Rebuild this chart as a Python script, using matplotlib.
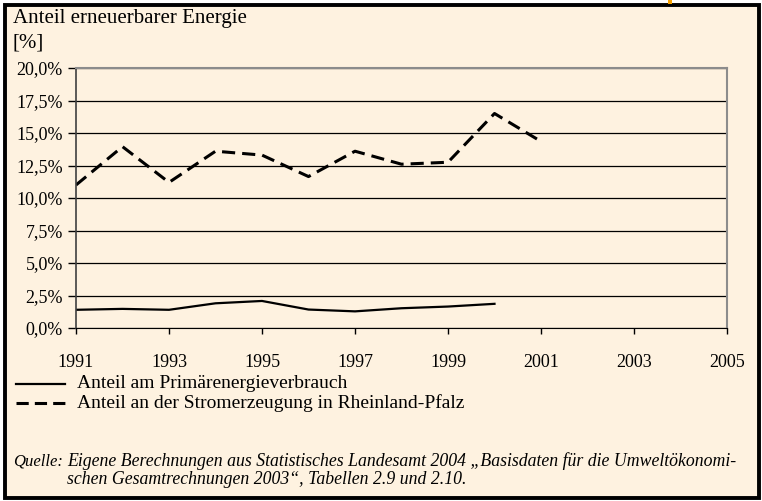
import matplotlib.pyplot as plt
from matplotlib.lines import Line2D
from matplotlib.patches import Rectangle
from matplotlib.ticker import FuncFormatter

# Daten
jahre_primaer = [1991, 1992, 1993, 1994, 1995, 1996, 1997, 1998, 1999, 2000]
primaer = [1.40, 1.47, 1.40, 1.90, 2.08, 1.42, 1.28, 1.52, 1.65, 1.86]
jahre_strom = [1991, 1992, 1993, 1994, 1995, 1996, 1997, 1998, 1999, 2000, 2001]
strom = [11.0, 13.95, 11.2, 13.6, 13.3, 11.65, 13.6, 12.6, 12.75, 16.5, 14.35]

x_ticks = [1991, 1993, 1995, 1997, 1999, 2001, 2003, 2005]
y_ticks = [0, 2.5, 5, 7.5, 10, 12.5, 15, 17.5, 20]
label_primaer = "Anteil am Primärenergieverbrauch"
label_strom = "Anteil an der Stromerzeugung in Rheinland-Pfalz"

bg = "#fef2e0"
plt.rcParams['font.family'] = ['Liberation Serif', 'DejaVu Serif']

W, H = 762, 501
fig = plt.figure(figsize=(W / 100, H / 100), dpi=100, facecolor="white")

def fx(px):
    return px / W

def fy(py):
    return 1 - py / H

# Rahmen
fig.add_artist(Rectangle((fx(5), fy(498)), fx(759) - fx(5), fy(5) - fy(498),
                         transform=fig.transFigure, facecolor=bg,
                         edgecolor="black", linewidth=2.8, zorder=0))
fig.add_artist(Rectangle((fx(668), fy(4)), fx(4), fy(0) - fy(4),
                         transform=fig.transFigure, facecolor="#f5a000",
                         edgecolor="none", zorder=1))

ax = fig.add_axes([fx(76), fy(328), fx(727) - fx(76), fy(68) - fy(328)])
ax.set_facecolor(bg)

ax.plot(jahre_primaer, primaer, color="black", linewidth=1.6, solid_joinstyle="round")
ax.plot(jahre_strom, strom, color="black", linewidth=2.2, dashes=(4.3, 2.3))

ax.set_xlim(1991, 2005)
ax.set_ylim(0, 20)
ax.set_xticks(x_ticks)
ax.set_yticks(y_ticks)
ax.yaxis.set_major_formatter(FuncFormatter(lambda v, p: f"{v:.1f}%".replace(".", ",")))
ax.grid(axis="y", color="black", linewidth=0.9)
ax.set_axisbelow(True)
for s in ["top", "right"]:
    ax.spines[s].set_color("#8c8c8c")
    ax.spines[s].set_linewidth(1.5)
ax.spines["left"].set_color("#404040")
ax.spines["left"].set_linewidth(1.2)
ax.spines["bottom"].set_color("black")
ax.tick_params(axis="both", direction="out", width=1, color="black", labelsize=13)
ax.tick_params(axis="x", length=4.5, pad=14)
ax.tick_params(axis="y", length=6, pad=3.5)

# Achsentitel
fig.text(fx(13), fy(18), "Anteil erneuerbarer Energie", fontsize=15, va="center", ha="left")
fig.text(fx(13), fy(43), "[%]", fontsize=15, va="center", ha="left")

# Legende
fig.add_artist(Line2D([fx(16), fx(65)], [fy(384), fy(384)], transform=fig.transFigure,
                      color="black", linewidth=1.6))
fig.add_artist(Line2D([fx(16), fx(65)], [fy(403), fy(403)], transform=fig.transFigure,
                      color="black", linewidth=2.2, dashes=(4.0, 2.0)))
fig.text(fx(77), fy(384), label_primaer, fontsize=14, va="center", ha="left")
fig.text(fx(77), fy(403), label_strom, fontsize=14, va="center", ha="left")

# Quelle
fig.text(fx(13), fy(461), "Quelle:", fontsize=12, style="italic", va="center", ha="left")
fig.text(fx(67), fy(461),
         "Eigene Berechnungen aus Statistisches Landesamt 2004 „Basisdaten für die Umweltökonomi-",
         fontsize=12.8, style="italic", va="center", ha="left")
fig.text(fx(67), fy(479), "schen Gesamtrechnungen 2003“, Tabellen 2.9 und 2.10.",
         fontsize=12.8, style="italic", va="center", ha="left")

fig.savefig("out.png", dpi=100, facecolor="white")
